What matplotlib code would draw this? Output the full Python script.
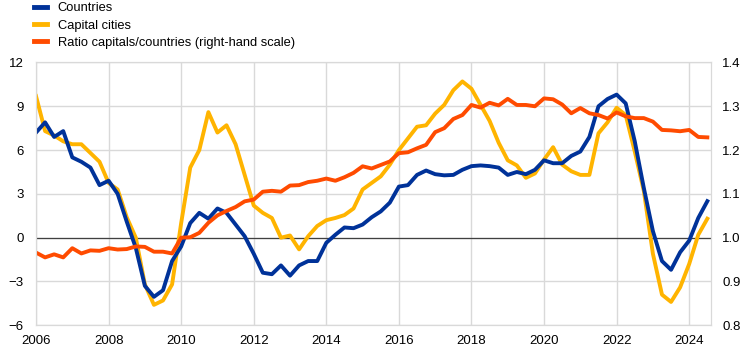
import matplotlib.pyplot as plt
from matplotlib.lines import Line2D

plt.rcParams['font.family'] = ['Liberation Sans', 'DejaVu Sans']

# quarterly observations, 2006 Q1 .. 2024 Q3
start_year = 2006
countries = [7.2, 7.9, 6.9, 7.3,
             5.5, 5.2, 4.8, 3.6,
             3.9, 3.0, 1.1, -0.7,
             -3.3, -4.05, -3.6, -1.6,
             -0.6, 1.0, 1.7, 1.3,
             2.0, 1.7, 0.9, 0.1,
             -1.1, -2.4, -2.5, -1.9,
             -2.6, -1.9, -1.6, -1.6,
             -0.35, 0.2, 0.7, 0.65,
             0.9, 1.4, 1.8, 2.4,
             3.5, 3.6, 4.3, 4.6,
             4.35, 4.27, 4.3, 4.65,
             4.9, 4.95, 4.9, 4.8,
             4.3, 4.5, 4.35, 4.65,
             5.3, 5.1, 5.1, 5.6,
             5.9, 6.9, 9.0, 9.5,
             9.8, 9.2, 6.6, 3.4,
             0.45, -1.6, -2.2, -1.0,
             -0.2, 1.35, 2.5]
capitals = [9.7, 7.3, 7.0, 6.6,
            6.4, 6.4, 5.8, 5.2,
            3.75, 3.3, 1.4, 0.0,
            -3.2, -4.6, -4.3, -3.2,
            1.0, 4.8, 6.0, 8.6,
            7.2, 7.7, 6.4, 4.3,
            2.2, 1.7, 1.35, 0.0,
            0.15, -0.8, 0.1, 0.8,
            1.2, 1.35, 1.55, 2.0,
            3.3, 3.75, 4.2, 5.0,
            6.0, 6.8, 7.6, 7.7,
            8.5, 9.1, 10.1, 10.7,
            10.2, 9.1, 8.0, 6.5,
            5.3, 4.95, 4.1, 4.4,
            5.35, 6.2, 5.0, 4.55,
            4.3, 4.3, 7.15, 7.9,
            8.9, 8.4, 5.9, 3.2,
            -1.1, -3.9, -4.4, -3.4,
            -1.8, 0.2, 1.3]
ratio = [0.966, 0.955, 0.962, 0.955,
         0.976, 0.964, 0.971, 0.970,
         0.976, 0.973, 0.974, 0.980,
         0.979, 0.968, 0.968, 0.964,
         1.000, 1.001, 1.011, 1.034,
         1.051, 1.061, 1.070, 1.083,
         1.087, 1.105, 1.107, 1.105,
         1.119, 1.120, 1.127, 1.130,
         1.135, 1.130, 1.138, 1.148,
         1.163, 1.158, 1.166, 1.174,
         1.193, 1.195, 1.204, 1.212,
         1.241, 1.250, 1.271, 1.280,
         1.303, 1.297, 1.308, 1.302,
         1.317, 1.303, 1.303, 1.300,
         1.318, 1.316, 1.304, 1.284,
         1.296, 1.284, 1.280, 1.272,
         1.286, 1.277, 1.273, 1.273,
         1.265, 1.246, 1.245, 1.243,
         1.246, 1.230, 1.229]

x_ticks = list(range(2006, 2025, 2))
left_ticks = [-6, -3, 0, 3, 6, 9, 12]
right_ticks = [0.8, 0.9, 1.0, 1.1, 1.2, 1.3, 1.4]

labels = ['Countries', 'Capital cities', 'Ratio capitals/countries (right-hand scale)']
colors = ['#003299', '#FFB400', '#FF4B00']

x = [start_year + i / 4 for i in range(len(countries))]

fig = plt.figure(figsize=(7.44, 3.53), dpi=100)
ax = fig.add_axes([0.0484, 0.0785, 0.9072, 0.7445])
ax2 = ax.twinx()

grid_col = '#d9d9d9'
ax.set_xlim(2006, 2024.6)
ax.set_ylim(-6, 12)
ax2.set_ylim(0.8, 1.4)
ax.set_xticks(x_ticks)
ax.set_yticks(left_ticks)
ax2.set_yticks(right_ticks)
ax2.set_yticklabels([f'{t:.1f}' for t in right_ticks])
ax.grid(True, color=grid_col, linewidth=1)
ax.set_axisbelow(True)
ax.axhline(0, color='#404040', linewidth=0.9, zorder=1)

for a in (ax, ax2):
    for s in a.spines.values():
        s.set_color(grid_col)
    a.tick_params(length=0, labelsize=9.5, colors='#000000')
ax.tick_params(axis='y', pad=9)
ax.tick_params(axis='x', pad=7)
ax2.tick_params(axis='y', pad=8)

ax.plot(x, capitals, color=colors[1], linewidth=2.8, zorder=3)
ax.plot(x, countries, color=colors[0], linewidth=2.8, zorder=4)
ax2.plot(x, ratio, color=colors[2], linewidth=2.8)

handles = [Line2D([], [], color=c, linewidth=3.5) for c in colors]
fig.legend(handles, labels, loc='upper left', bbox_to_anchor=(0.035, 1.015),
           frameon=False, fontsize=9.3, handlelength=1.05, handletextpad=0.8,
           labelspacing=0.4, borderaxespad=0.2)

fig.savefig('out.png', dpi=100)
